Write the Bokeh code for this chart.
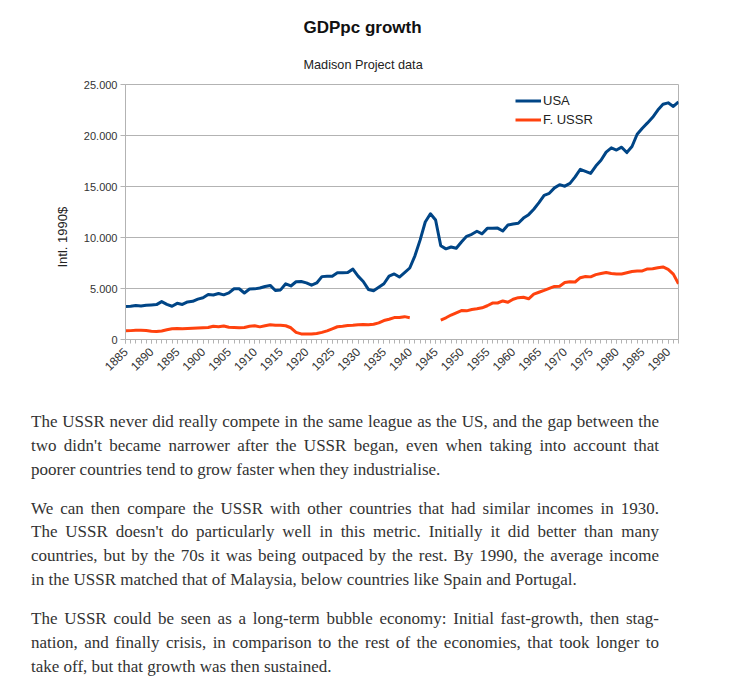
from math import pi, nan

from bokeh.embed import file_html
from bokeh.layouts import column
from bokeh.models import ColumnDataSource, Div, FixedTicker, Range1d, Title
from bokeh.plotting import figure
from bokeh.resources import INLINE

# GDP per capita, international 1990 dollars (Maddison Project)
years = list(range(1885, 1993))

usa = [
    3230, 3250, 3330, 3280, 3350, 3390, 3420, 3717, 3440, 3262,  # 1885-1894
    3547, 3440, 3679, 3740, 3960, 4091, 4404, 4362, 4505, 4379,  # 1895-1904
    4569, 4973, 4976, 4560, 4950, 4964, 5046, 5201, 5301, 4799,  # 1905-1914
    4864, 5459, 5248, 5659, 5680, 5552, 5323, 5540, 6164, 6195,  # 1915-1924
    6205, 6539, 6540, 6569, 6899, 6213, 5691, 4908, 4777, 5114,  # 1925-1934
    5467, 6204, 6430, 6126, 6561, 7010, 8206, 9741, 11518, 12333,  # 1935-1944
    11709, 9197, 8886, 9065, 8944, 9561, 10116, 10316, 10613, 10359,  # 1945-1954
    10897, 10914, 10920, 10631, 11230, 11328, 11402, 11905, 12242, 12773,  # 1955-1964
    13419, 14134, 14330, 14863, 15179, 15030, 15304, 15944, 16689, 16491,  # 1965-1974
    16284, 17002, 17567, 18373, 18789, 18577, 18856, 18325, 18920, 20123,  # 1975-1984
    20717, 21236, 21788, 22499, 23059, 23201, 22849, 23298,  # 1985-1992
]

# Former USSR; no estimates for the war years 1941-1945
ussr = [
    850, 870, 900, 910, 880, 800, 780, 840, 950, 1050,  # 1885-1894
    1080, 1060, 1080, 1100, 1120, 1150, 1170, 1300, 1260, 1330,  # 1895-1904
    1200, 1180, 1150, 1170, 1300, 1340, 1240, 1350, 1450, 1400,  # 1905-1914
    1400, 1350, 1150, 700, 550, 530, 530, 580, 700, 850,  # 1915-1924
    1050, 1250, 1300, 1370, 1390, 1450, 1460, 1440, 1490, 1630,  # 1925-1934
    1860, 1990, 2150, 2150, 2240, 2140, nan, nan, nan, nan,  # 1935-1944
    nan, 1910, 2130, 2400, 2620, 2840, 2810, 2940, 3010, 3110,  # 1945-1954
    3310, 3570, 3580, 3780, 3650, 3950, 4100, 4140, 3990, 4440,  # 1955-1964
    4630, 4810, 5010, 5200, 5230, 5580, 5670, 5640, 6060, 6180,  # 1965-1974
    6140, 6360, 6470, 6570, 6470, 6430, 6430, 6540, 6660, 6710,  # 1975-1984
    6720, 6920, 6940, 7040, 7110, 6880, 6410, 5460,  # 1985-1992
]

y_ticks = [0, 5000, 10000, 15000, 20000, 25000]
y_tick_labels = ["0", "5.000", "10.000", "15.000", "20.000", "25.000"]
x_label_years = list(range(1885, 1991, 5))

chart_title = "GDPpc growth"
chart_subtitle = "Madison Project data"
y_axis_title = "Intl. 1990$"

paragraphs = [
    [
        "The USSR never did really compete in the same league as the US, and the gap between the",
        "two didn't became narrower after the USSR began, even when taking into account that",
        "poorer countries tend to grow faster when they industrialise.",
    ],
    [
        "We can then compare the USSR with other countries that had similar incomes in 1930.",
        "The USSR doesn't do particularly well in this metric. Initially it did better than many",
        "countries, but by the 70s it was being outpaced by the rest. By 1990, the average income",
        "in the USSR matched that of Malaysia, below countries like Spain and Portugal.",
    ],
    [
        "The USSR could be seen as a long-term bubble economy: Initial fast-growth, then stag-",
        "nation, and finally crisis, in comparison to the rest of the economies, that took longer to",
        "take off, but that growth was then sustained.",
    ],
]

FONT = "Liberation Sans"
GRID = "#b3b3b3"
TEXT = "#333333"

source = ColumnDataSource(data=dict(year=years, usa=usa, ussr=ussr))

p = figure(
    width=738, height=400,
    x_range=Range1d(1885, 1992), y_range=Range1d(0, 25000),
    output_backend="svg", toolbar_location=None,
    min_border_left=125, min_border_right=60,
    min_border_top=84, min_border_bottom=61,
    background_fill_color="white", border_fill_color="white",
)
p.outline_line_color = GRID

p.line("year", "usa", source=source, color="#004586", line_width=3,
       line_join="round", legend_label="USA")
p.line("year", "ussr", source=source, color="#ff420e", line_width=3,
       line_join="round", legend_label="F. USSR")

# x axis: a tick every year, a label every five
xa = p.xaxis[0]
xa.ticker = FixedTicker(ticks=x_label_years, minor_ticks=years)
xa.major_label_orientation = pi / 4
xa.major_tick_in = 0
xa.major_tick_out = 4
xa.minor_tick_in = 0
xa.minor_tick_out = 4
xa.major_label_standoff = 6
xa.minor_tick_line_color = GRID
xa.major_label_text_font_size = "12px"

ya = p.yaxis[0]
ya.ticker = FixedTicker(ticks=y_ticks)
ya.major_label_overrides = dict(zip(y_ticks, y_tick_labels))
ya.major_tick_in = 0
ya.major_tick_out = 5
ya.minor_tick_line_color = None
ya.major_label_standoff = 3
ya.major_label_text_font_size = "11px"

for ax in (xa, ya):
    ax.axis_line_color = GRID
    ax.major_tick_line_color = GRID
    ax.major_label_text_font = FONT
    ax.major_label_text_color = TEXT

p.xgrid.grid_line_color = None
p.ygrid.grid_line_color = GRID
p.ygrid.ticker = FixedTicker(ticks=y_ticks)

leg = p.legend[0]
leg.location = (390, 212)
leg.orientation = "vertical"
leg.border_line_color = None
leg.background_fill_alpha = 0
leg.padding = 0
leg.margin = 0
leg.spacing = 4
leg.glyph_width = 26
leg.glyph_height = 15
leg.label_height = 15
leg.label_standoff = 2
leg.label_text_font = FONT
leg.label_text_font_size = "13px"
leg.label_text_color = "#222222"

# headings: the subtitle sits next to the frame, the title above it
p.add_layout(Title(text=chart_subtitle, align="left", offset=178, standoff=25,
                   text_font=FONT, text_font_size="12.7px",
                   text_font_style="normal", text_color="#222222"), "above")
p.add_layout(Title(text=chart_title, align="left", offset=178, standoff=14,
                   text_font=FONT, text_font_size="17px",
                   text_font_style="bold", text_color="#111111"), "above")
p.add_layout(Title(text=y_axis_title, align="left", offset=72, standoff=22,
                   text_font=FONT, text_font_size="13px",
                   text_font_style="normal", text_color="#222222"), "left")

# body text: justified lines, the last line of each paragraph left aligned
justified = "display:block;text-align:justify;text-align-last:justify;white-space:nowrap;"
ragged = "display:block;text-align:left;white-space:nowrap;"
html_pars = []
for lines in paragraphs:
    spans = [
        f'<span style="{justified if i < len(lines) - 1 else ragged}">{ln}</span>'
        for i, ln in enumerate(lines)
    ]
    html_pars.append('<p style="margin:0 0 15.2px 0;padding:0;">' + "".join(spans) + "</p>")

body = (
    '<div style="font-family:\'Liberation Serif\',serif;font-size:17px;color:#333333;'
    'line-height:23.8px;padding:10px 0 0 31px;width:659px;">'
    + "".join(html_pars) + "</div>"
)
div = Div(text=body, width=738, height=288, margin=0)

layout = column(p, div, spacing=0, margin=0)

with open("out.html", "w") as f:
    f.write(file_html(layout, INLINE))
